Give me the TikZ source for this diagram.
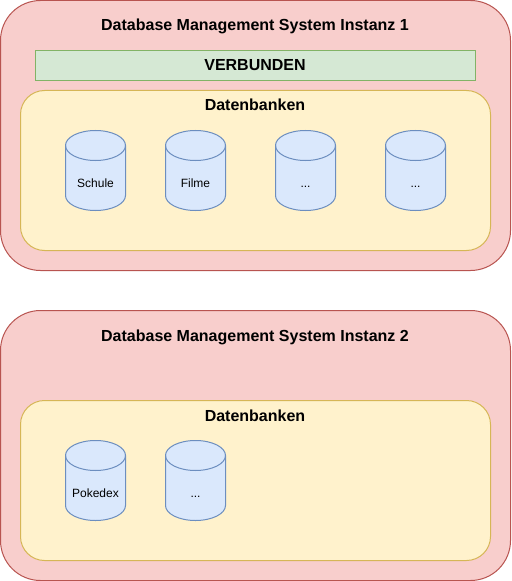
\documentclass[tikz,border=0pt]{standalone}
\usepackage{fontspec}
\setmainfont{Liberation Sans}
\definecolor{redf}{HTML}{F8CECC}\definecolor{redd}{HTML}{B85450}
\definecolor{grnf}{HTML}{D5E8D4}\definecolor{grnd}{HTML}{82B366}
\definecolor{yelf}{HTML}{FFF2CC}\definecolor{yeld}{HTML}{D6B656}
\definecolor{bluf}{HTML}{DAE8FC}\definecolor{blud}{HTML}{6C8EBF}
\tikzset{x=0.75pt,y=-0.75pt,
 px/.style={line width=0.75pt},
 inst/.style={px,draw=redd,fill=redf,rounded corners=30pt},
 dbs/.style={px,draw=yeld,fill=yelf,rounded corners=18pt},
 conn/.style={px,draw=grnd,fill=grnf},
 title/.style={font=\bfseries\fontsize{12}{14}\selectfont,text=black,inner sep=0pt},
 dbl/.style={font=\fontsize{9}{11}\selectfont,text=black,inner sep=0pt}}
\newcommand{\dbcyl}[5]{% name, x, y-top, label, label y offset
 \path[px,draw=blud,fill=bluf] (#2,#3+15) .. controls (#2,#3+6.7) and (#2+13.4,#3) .. (#2+30,#3) .. controls (#2+46.6,#3) and (#2+60,#3+6.7) .. (#2+60,#3+15) -- (#2+60,#3+65) .. controls (#2+60,#3+73.3) and (#2+46.6,#3+80) .. (#2+30,#3+80) .. controls (#2+13.4,#3+80) and (#2,#3+73.3) .. (#2,#3+65) -- cycle;
 \draw[px,blud] (#2,#3+15) .. controls (#2,#3+23.3) and (#2+13.4,#3+30) .. (#2+30,#3+30) .. controls (#2+46.6,#3+30) and (#2+60,#3+23.3) .. (#2+60,#3+15);
 \node[dbl,anchor=base] (#1) at (#2+30,#3+#5) {#4};}
\begin{document}
\begin{tikzpicture}
\useasboundingbox (0,0) rectangle (511,581);
\path[inst] (0.5,0.5) rectangle (510.5,270.5);
\node[title,anchor=base] (t1) at (255,31) {Database Management System Instanz 1};
\path[conn] (35.5,50.5) rectangle (475.5,80.5);
\node[title,anchor=base] (v1) at (255,70.5) {VERBUNDEN};
\path[dbs] (20.5,90.5) rectangle (490.5,250.5);
\node[title,anchor=base] (d1) at (255,111) {Datenbanken};
\dbcyl{c1}{65.5}{130.5}{Schule}{57}
\dbcyl{c2}{165.5}{130.5}{Filme}{57}
\dbcyl{c3}{275.5}{130.5}{...}{57}
\dbcyl{c4}{385.5}{130.5}{...}{57}
\path[inst] (0.5,310.5) rectangle (510.5,580.5);
\node[title,anchor=base] (t2) at (255,341) {Database Management System Instanz 2};
\path[dbs] (20.5,400.5) rectangle (490.5,560.5);
\node[title,anchor=base] (d2) at (255,421) {Datenbanken};
\dbcyl{c5}{65.5}{440.5}{Pokedex}{57}
\dbcyl{c6}{165.5}{440.5}{...}{57}
\end{tikzpicture}
\end{document}
